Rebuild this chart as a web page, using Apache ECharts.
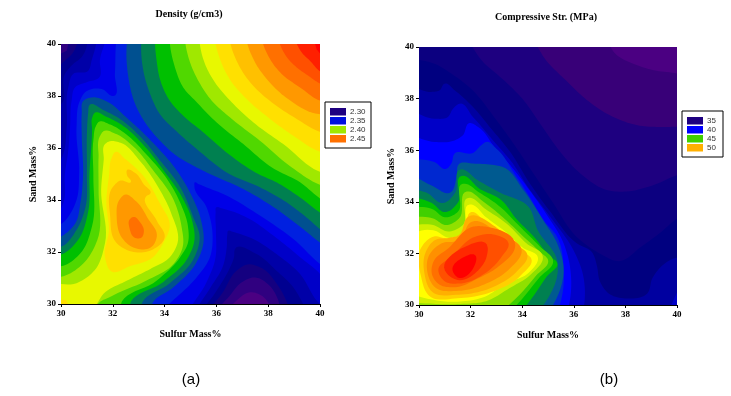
<!DOCTYPE html>
<html><head><meta charset="utf-8">
<style>html,body{margin:0;padding:0;background:#fff}#c{width:731px;height:396px}</style>
<script src="https://cdn.jsdelivr.net/npm/echarts@6/dist/echarts.min.js"></script>
</head><body><div id="c"></div>
<script>
const legendA=['2.30','2.35','2.40','2.45'];
const legendB=['35','40','45','50'];
const legendColorsA=['#1e0080','#0010e0','#a0e800','#ff7000'];
const legendColorsB=['#1e0080','#0000ff','#40d000','#ffb000'];
const full=[[29.5,29.5],[40.5,29.5],[40.5,40.5],[29.5,40.5]];

// Density isolines, [sulfur, sand]
const aTL34=[[31.7,40.5],[31.5,39.36],[31.48,38.72],[30.99,38.53],[30.54,38.33],[30.41,37.82],[30.35,36.8],[30.28,35.9],[30.15,35],[30.1,33.9],[29.5,33],[29.5,40.5]];
const aTL33=[[31.3,40.5],[31.18,39.36],[31.05,38.97],[30.47,38.85],[30.28,38.33],[30.22,36.8],[30.09,35.77],[29.5,34.8],[29.5,40.5]];
const aTL32=[[30.93,40.5],[30.8,39.5],[30.47,39.23],[30.15,38.85],[30.02,37.7],[29.5,37.4],[29.5,40.5]];
const aTL31=[[30.6,40.5],[30.47,39.68],[30.15,39.36],[29.5,38.9],[29.5,40.5]];
const aTL30=[[30.4,40.5],[30.22,39.74],[29.5,39.4],[29.5,40.5]];
const aBR34=[[35.97,33.5],[36,33.72],[36.2,33.68],[37.17,33.33],[38.2,32.63],[39.23,31.8],[40.1,31.03],[40.5,29.5],[34.85,29.5],[35.6,30.8],[35.95,31.7],[35.98,32.85]];
const aBR33=[[36.42,32.65],[36.46,32.82],[36.62,32.78],[37.42,32.5],[38.32,31.92],[39.23,31.15],[39.87,30.13],[40.5,29.5],[35.1,29.5],[35.75,30.6],[36.25,31.45],[36.4,32.2]];
const aBR32=[[36.72,32.12],[37.55,31.92],[38.32,31.28],[38.97,30.64],[39.35,30],[39.6,29.5],[35.35,29.5],[36,30.5],[36.5,31.35],[36.68,31.8]];
const aBR31=[[37.2,31.52],[37.75,31.38],[38.35,30.75],[38.75,30],[38.9,29.5],[35.6,29.5],[36.25,30.45],[36.8,31.3]];
const aBR30=[[37.5,31.02],[37.95,30.8],[38.3,30.35],[38.45,29.5],[35.9,29.5],[36.5,30.3],[37,30.85]];
const aBR29=[[37.3,30.45],[37.7,30.35],[38,30.05],[38.1,29.5],[36.35,29.5],[36.8,30.15]];
const aH35=[[32.21,40.5],[32.08,38.85],[32.02,38],[31.57,38.27],[30.93,38.14],[30.73,37.82],[30.6,36.8],[30.7,35.05],[30.6,34],[30.2,33.25],[29.5,32.7],[29.5,29.5],[33.5,29.5],[34.46,30.26],[35.24,31.03],[35.75,31.8],[35.85,32.7],[35.62,33.72],[35.15,34.55],[35.17,34.68],[35.3,34.62],[36.39,34.17],[37.68,33.4],[38.97,32.5],[40.1,31.47],[40.5,40.5]];
const aP36=[[30.85,37.8],[31.25,37.95],[31.75,37.8],[32.55,37.15],[33.05,36.7],[33.55,36.2],[34.35,35.3],[35,34.25],[35.4,33.25],[35.5,32.35],[35.2,31.55],[34.35,30.65],[33.5,29.95],[33.5,29.5],[29.5,29.5],[29.5,32.45],[30,32.6],[30.55,33.1],[30.75,33.9],[30.85,34.9],[30.8,36.45],[30.8,37.35]];
const aT36=[[32.62,40.5],[32.6,38.72],[32.86,37.7],[33.24,36.99],[33.82,36.28],[34.46,35.7],[35.11,35.32],[35.75,35],[37.04,34.42],[38.32,33.65],[39.35,32.88],[40.1,32.3],[40.5,40.5]];
const aP37=[[31.1,37.65],[31.65,37.45],[32.3,37.1],[33.05,36.45],[33.8,35.55],[34.6,34.5],[35.1,33.35],[35.35,32.6],[35.1,31.7],[34.2,30.8],[33.1,29.95],[33.1,29.5],[29.5,29.5],[29.5,32.15],[30,32.2],[30.6,32.85],[30.95,33.75],[31,35.05],[31,36.55],[31.05,37.35]];
const aT37=[[33.15,40.5],[33.18,38.97],[33.44,38.08],[33.82,37.3],[34.46,36.64],[35.24,35.96],[36.5,35],[37.68,34.49],[38.71,33.91],[39.48,33.33],[40.1,32.8],[40.5,40.5]];
const aP38=[[31.3,37.35],[31.75,37.2],[32.4,36.85],[33.2,36.1],[33.95,35.15],[34.65,34.15],[35.05,33.25],[35.15,32.45],[34.85,31.7],[33.95,30.85],[32.65,29.95],[32.65,29.5],[29.5,29.5],[29.5,31.85],[30,31.9],[30.65,32.45],[31.05,33.55],[31.1,35.05],[31.2,36.7],[31.2,37.15]];
const aT38=[[33.65,40.5],[33.7,39.3],[33.82,38.65],[34.2,37.82],[34.72,37.24],[35.5,36.6],[36.39,35.83],[37.62,35],[38.32,34.68],[39.23,34.1],[40.1,33.46],[40.5,40.5]];
const aP39=[[31.45,37],[31.9,36.9],[32.55,36.5],[33.3,35.75],[34.1,34.8],[34.6,33.9],[34.9,33],[34.9,32.35],[34.6,31.8],[33.7,30.9],[32.3,29.95],[32.3,29.5],[29.5,29.5],[29.5,31.45],[30,31.45],[30.75,31.95],[31.2,33],[31.25,34.9],[31.25,36.3],[31.35,36.85]];
const aT39=[[34.2,40.5],[34.4,39.1],[34.72,38.33],[35.24,37.76],[36,36.99],[37.04,36.15],[38.13,35.26],[39.23,34.68],[40.1,34],[40.5,40.5]];
const aP40=[[31.65,36.65],[32.1,36.55],[32.8,36.05],[33.55,35.15],[34.35,34],[34.65,33],[34.7,32.2],[34.35,31.55],[33.3,30.9],[31.95,30.3],[31.4,29.95],[31.4,29.5],[29.5,29.5],[29.5,31.05],[30,31.05],[30.85,31.55],[31.4,32.45],[31.45,34.4],[31.45,35.65],[31.5,36.45]];
const aT40=[[34.78,40.5],[34.98,39.3],[35.3,38.59],[35.82,37.82],[36.52,37.18],[37.68,36.28],[38.9,35.26],[40.1,34.55],[40.5,40.5]];
const aP41=[[31.85,36.25],[32.3,36.2],[33.05,35.5],[33.75,34.5],[34.25,33.5],[34.5,32.35],[34.2,31.8],[33.45,31.35],[32.55,30.9],[31.65,30.4],[31.3,29.9],[29.5,29.5],[29.5,30.65],[30.6,30.8],[31.3,31.3],[31.7,32.35],[31.55,34.4],[31.65,35.55],[31.7,36.15]];
const aT41=[[35.35,40.5],[35.56,39.23],[35.94,38.53],[36.59,37.76],[37.42,36.99],[38.58,36.15],[40.1,35.05],[40.5,40.5]];
const aP42=[[32.1,35.85],[32.45,35.6],[33.2,34.9],[33.8,33.9],[34.2,33],[33.95,32.35],[33.55,31.8],[32.65,31.45],[31.95,31.25],[31.7,31.8],[31.85,32.85],[31.75,33.9],[31.85,34.9],[31.95,35.6]];
const aC42=[[29.5,29.5],[29.5,30.2],[30.2,30.15],[30.5,29.5]];
const aT42=[[35.93,40.5],[36.16,39.36],[36.55,38.59],[37.17,37.88],[38.07,37.12],[38.97,36.47],[40.1,35.83],[40.5,40.5]];
const aP43=[[32.55,35.15],[32.85,35.05],[33.2,34.6],[33.45,34.25],[33.3,34.15],[33.7,33.2],[34,32.55],[33.55,32.1],[32.8,32],[32.1,32.4],[31.9,33.35],[32,34.5],[32.3,34.75],[32.7,34.7],[32.55,34.95]];
const aT43=[[36.5,40.5],[36.84,39.23],[37.36,38.46],[38.13,37.76],[39.1,37.12],[40.1,36.6],[40.5,40.5]];
const aP44=[[32.45,34.2],[32.9,33.95],[33.35,33.3],[33.7,32.6],[33.5,32.2],[32.85,32.15],[32.35,32.55],[32.15,33.35],[32.25,34]];
const aT44=[[37.15,40.5],[37.49,39.3],[38,38.59],[38.77,37.88],[40.1,37.3],[40.5,40.5]];
const aP45=[[32.8,33.35],[33.05,33.15],[33.2,32.8],[33.1,32.55],[32.85,32.55],[32.65,32.9],[32.65,33.25]];
const aT45=[[37.75,40.5],[38.07,39.42],[38.52,38.85],[39.23,38.33],[40.1,37.8],[40.5,40.5]];
const aT46=[[38.4,40.5],[38.68,39.55],[39.1,39.1],[39.55,38.78],[40.1,38.45],[40.5,40.5]];
const aT47=[[39.05,40.5],[39.29,39.68],[39.61,39.36],[40.1,38.9],[40.5,40.5]];
const aT48=[[39.66,40.5],[39.87,39.8],[40.1,39.5],[40.5,40.5]];

const densityBands=[
 ['#0000e8',full],
 ['#0000c8',aTL34],['#0000c8',aBR34],['#0000a8',aTL33],['#0000a8',aBR33],['#000090',aTL32],['#000090',aBR32],
 ['#140080',aTL31],['#140080',aBR31],['#300080',aTL30],['#300080',aBR30],['#4b0082',aBR29],
 ['#0020e0',aH35],['#005090',aP36],['#005090',aT36],['#008050',aP37],['#008050',aT37],['#00c000',aP38],['#00c000',aT38],
 ['#50d800',aP39],['#50d800',aT39],['#a0e800',aP40],['#a0e800',aT40],['#e8f800',aP41],['#e8f800',aT41],
 ['#ffe000',aP42],['#ffe000',aC42],['#ffe000',aT42],['#ffc000',aP43],['#ffc000',aT43],['#ff9800',aP44],['#ff9800',aT44],
 ['#ff7000',aP45],['#ff7000',aT45],['#ff5000',aT46],['#ff2000',aT47],['#ff0000',aT48]
];

// Compressive strength isolines
const b1=[[37.15,40.5],[37.65,39.7],[38.3,39.35],[39.1,39.1],[40.1,38.95],[40.5,29.5],[29.5,29.5],[29.5,40.5]];
const b2=[[34.25,40.5],[34.95,39.45],[35.7,38.7],[36.5,37.95],[37.4,37.35],[38.55,36.95],[39.5,36.9],[40.1,36.9],[40.5,29.5],[29.5,29.5],[29.5,40.5]];
const b3=[[31.6,40.5],[32.5,39.4],[33.3,38.7],[34,38],[34.75,36.95],[35.5,35.9],[36.25,35.1],[37.3,34.45],[38.05,34.4],[39.1,34.65],[40.1,35.05],[40.5,29.5],[29.5,29.5],[29.5,40.5]];
const b4=[[29.5,39.55],[30,39.5],[30.6,39.35],[31.25,38.97],[32.1,38.3],[32.9,37.3],[33.7,36.2],[34.4,35.15],[35.2,33.95],[36.1,32.65],[37,32],[37.75,31.7],[38.6,32.25],[39.35,32.8],[40.1,33.4],[40.5,29.5],[29.5,29.5]];
const b5=[[29.5,38.55],[30.48,38.26],[30.8,38.32],[30.99,38.58],[31.38,38.32],[32.03,37.74],[32.8,36.83],[33.58,35.87],[34.22,34.83],[35.1,33.6],[36.1,32.4],[36.7,32.05],[36.9,31.5],[37,30.95],[37.35,30.45],[38.05,30.25],[38.85,30.45],[39.05,31.05],[40.1,31.85],[40.5,29.5],[29.5,29.5]];
const b6=[[29.5,37.6],[30.6,37.22],[31.12,37.29],[31.32,37.61],[31.57,37.8],[32.09,37.29],[32.87,36.38],[33.64,35.48],[34.22,34.57],[35.1,33.4],[36,32.1],[36.35,31.2],[36.3,29.5],[29.5,29.5]];
const b6c=[[39.55,29.5],[40.1,30.7],[40.5,29.5]];
const b7=[[29.5,36.6],[30.6,36.32],[31.38,36.38],[31.7,36.58],[31.96,37.05],[32.29,36.9],[32.93,36.12],[33.7,35.22],[34.29,34.44],[34.95,33.5],[35.6,32.4],[35.85,31.5],[35.65,29.5],[29.5,29.5]];
const b8=[[29.5,35.61],[30.6,35.54],[31.06,35.28],[31.25,35.48],[31.38,35.87],[32.09,35.89],[32.41,36.19],[32.61,36.32],[33,36.06],[33.7,35.09],[34.22,34.3],[34.9,33.2],[35.35,32.65],[35.6,31.55],[35.25,29.5],[29.5,29.5]];
const b9=[[29.5,35.1],[30.55,34.6],[31.2,34.35],[31.45,34.9],[31.57,35.48],[32.09,35.48],[33,35.41],[33.25,35.35],[34.05,34.45],[34.8,33.3],[35.35,32.4],[35.6,31.5],[34.85,29.5],[29.5,29.5]];
const b10=[[29.5,34.5],[30.3,34.35],[30.93,33.95],[31.4,34.35],[31.6,35.25],[32.25,34.85],[33.15,34.35],[34.25,33.8],[34.6,32.9],[35.35,31.75],[34.4,29.5],[29.5,29.5]];
const b11=[[29.5,34.2],[30.5,33.95],[31,33.6],[31.5,33.95],[31.65,35],[32.35,34.5],[33.15,34.1],[33.8,33.3],[34.45,32.65],[35.1,31.85],[35.35,31.65],[34.95,31.1],[33.65,29.5],[29.5,29.5]];
const b12=[[29.5,33.75],[30.55,33.7],[31,33.4],[31.5,33.6],[31.7,34.7],[32.35,34.35],[33.15,33.8],[33.9,33.05],[34.7,32.25],[35.2,31.7],[34.7,31.1],[33.15,29.5],[29.5,29.5]];
const b13=[[29.5,33.35],[30.55,33.35],[31.05,33.1],[31.55,33.35],[31.85,34.4],[32.5,34],[33.25,33.4],[34.05,32.65],[34.7,32.05],[35,31.75],[34.55,31.15],[32.7,29.5],[29.5,29.5]];
const b14=[[29.5,32.97],[30.55,33.1],[31.13,32.85],[31.7,33.1],[31.9,34.15],[32.6,33.7],[33.4,33.15],[34.15,32.4],[34.8,31.87],[34.35,31.2],[33.5,30.65],[32.6,30.15],[31.6,30.04],[30.55,30.05],[29.5,30.2]];
const b15=[[29.5,32.6],[30.55,32.9],[31.2,32.6],[31.7,32.8],[31.97,33.9],[32.6,33.4],[33.4,32.8],[34.05,32.2],[34.6,31.87],[34.25,31.25],[33.4,30.85],[32.5,30.3],[31.5,30.13],[30.55,30.2],[29.5,30.6]];
const b16=[[30.1,32.25],[30.55,32.65],[31.2,32.55],[31.77,32.75],[32.03,33.6],[32.6,33.15],[33.4,32.5],[34,32.07],[34.35,31.8],[33.95,31.15],[32.8,30.5],[31.5,30.26],[30.4,30.35],[30.08,31.1]];
const b17=[[30.24,32],[30.63,32.52],[31.14,32.6],[31.53,32.7],[31.92,33.43],[32.95,33.04],[33.6,32.4],[34.2,31.95],[33.79,31.3],[32.76,30.65],[31.53,30.4],[30.5,30.52],[30.21,31.23]];
const b18=[[30.37,31.88],[30.88,32.39],[31.53,32.5],[32.05,33.23],[33.08,32.78],[33.98,32.1],[33.53,31.42],[32.63,30.84],[31.53,30.55],[30.63,30.68],[30.32,31.3]];
const b19=[[30.56,31.68],[31.14,32.2],[32.11,33.04],[32.56,33.04],[33.73,32.33],[33.08,31.49],[32.3,31.04],[31.4,30.69],[30.75,30.82],[30.5,31.2]];
const b20=[[30.75,31.36],[31.27,31.88],[32.18,32.65],[32.95,32.72],[33.47,32.39],[33.21,31.88],[32.56,31.23],[31.53,30.83],[31.01,30.91]];
const b21=[[31,31.35],[31.77,32.25],[32.62,32.35],[32.62,31.87],[32.3,31.35],[31.5,30.97]];
const b22=[[31.3,31.35],[31.77,31.87],[32.15,31.95],[32.1,31.42],[31.5,31.07]];

const strengthBands=[
 ['#4b0082',full],['#380078',b1],['#1e0080',b2],['#0c0080',b3],['#000080',b4],['#0000a0',b5],['#0000c8',b6],['#0000c8',b6c],
 ['#0000ff',b7],['#0028d0',b8],['#005a90',b9],['#008050',b10],['#00c000',b11],['#40d000',b12],['#90e000',b13],['#d0f000',b14],
 ['#ffff00',b15],['#ffd000',b16],['#ffb000',b17],['#ff9000',b18],['#ff7000',b19],['#ff5000',b20],['#ff2800',b21],['#ff0000',b22]
];

// Rounds a closed outline in pixel space; tangents favour the shorter neighbouring segment so long off-frame closures do not bulge.
function rounded(pts){
 const n=pts.length,out=[];
 const sub=(a,b)=>[a[0]-b[0],a[1]-b[1]],len=v=>Math.hypot(v[0],v[1])||1e-6;
 const tan=pts.map((p,i)=>{
  const a=sub(p,pts[(i+n-1)%n]),b=sub(pts[(i+1)%n],p),la=len(a),lb=len(b);
  const v=[(a[0]/la)*lb+(b[0]/lb)*la,(a[1]/la)*lb+(b[1]/lb)*la],l=len(v);
  return [v[0]/l,v[1]/l];});
 for(let i=0;i<n;i++){
  const p=pts[i],q=pts[(i+1)%n],L=len(sub(q,p))/3;
  const c1=[p[0]+tan[i][0]*L,p[1]+tan[i][1]*L],c2=[q[0]-tan[(i+1)%n][0]*L,q[1]-tan[(i+1)%n][1]*L];
  for(let k=0;k<10;k++){const t=k/10,u=1-t;
   out.push([u*u*u*p[0]+3*u*u*t*c1[0]+3*u*t*t*c2[0]+t*t*t*q[0],u*u*u*p[1]+3*u*u*t*c1[1]+3*u*t*t*c2[1]+t*t*t*q[1]]);}
 }
 return out;
}
const font='"Liberation Serif",serif';
function axisX(grid,name,gap){return {gridIndex:grid,type:'value',min:30,max:40,interval:2,name:name,nameLocation:'middle',nameGap:gap,
 nameTextStyle:{fontFamily:font,fontWeight:'bold',fontSize:10,color:'#000'},
 axisLine:{show:true,lineStyle:{color:'#000',width:1}},axisTick:{show:true,length:3,lineStyle:{color:'#000'}},
 axisLabel:{fontFamily:font,fontWeight:'bold',fontSize:9,color:'#000',margin:5},splitLine:{show:false}};}
function axisY(grid,name,gap){return {gridIndex:grid,type:'value',min:30,max:40,interval:2,name:name,nameLocation:'middle',nameGap:gap,
 nameRotate:90,nameTextStyle:{fontFamily:font,fontWeight:'bold',fontSize:10,color:'#000'},
 axisLine:{show:false},axisTick:{show:true,length:3,lineStyle:{color:'#000'}},
 axisLabel:{fontFamily:font,fontWeight:'bold',fontSize:9,color:'#000',margin:5},splitLine:{show:false}};}
function bandSeries(bands,idx){return {type:'custom',coordinateSystem:'cartesian2d',xAxisIndex:idx,yAxisIndex:idx,clip:true,silent:true,
 data:bands.map((b,i)=>[30,30,i]),encode:{x:0,y:1},
 renderItem:function(params,api){const b=bands[api.value(2)];
  const px=b[1].map(p=>api.coord(p));
  return {type:'polygon',shape:{points:px.length>4?rounded(px):px},style:{fill:b[0],stroke:null}};}};}
function legendGraphic(x,y,w,h,colors,labels,sx,tops,tx){
 const els=[{type:'rect',shape:{x:x,y:y,width:w,height:h},style:{fill:'#fff',stroke:'#000',lineWidth:1}}];
 labels.forEach((t,i)=>{els.push({type:'rect',shape:{x:sx,y:tops[i],width:16,height:7.5},style:{fill:colors[i]}});
  els.push({type:'text',x:tx,y:tops[i]-0.5,style:{text:t,font:'8px "Liberation Sans",sans-serif',fill:'#333'}});});
 return els;}
function txt(x,y,t,f,c){return {type:'text',x:x,y:y,style:{text:t,font:f,fill:c||'#000',textAlign:'center'}};}
const chart=echarts.init(document.getElementById('c'),null,{renderer:'canvas'});
chart.setOption({animation:false,backgroundColor:'#fff',
 grid:[{left:61,top:44,width:259,height:260},{left:419,top:47,width:258,height:258}],
 xAxis:[axisX(0,'Sulfur Mass%',25),axisX(1,'Sulfur Mass%',25)],
 yAxis:[axisY(0,'Sand Mass%',23),axisY(1,'Sand Mass%',23)],
 series:[bandSeries(densityBands,0),bandSeries(strengthBands,1)],
 graphic:[].concat(
  legendGraphic(325,102,46,46,legendColorsA,legendA,330,[108,117,126,135],350),
  legendGraphic(682,111,41,46,legendColorsB,legendB,687,[117,126,135,144],707),
  [txt(189,9,'Density (g/cm3)','bold 10px "Liberation Serif",serif'),
   txt(546,12,'Compressive Str. (MPa)','bold 10px "Liberation Serif",serif'),
   txt(191,372,'(a)','15px "Liberation Sans",sans-serif'),
   txt(609,372,'(b)','15px "Liberation Sans",sans-serif')])
});
</script></body></html>
